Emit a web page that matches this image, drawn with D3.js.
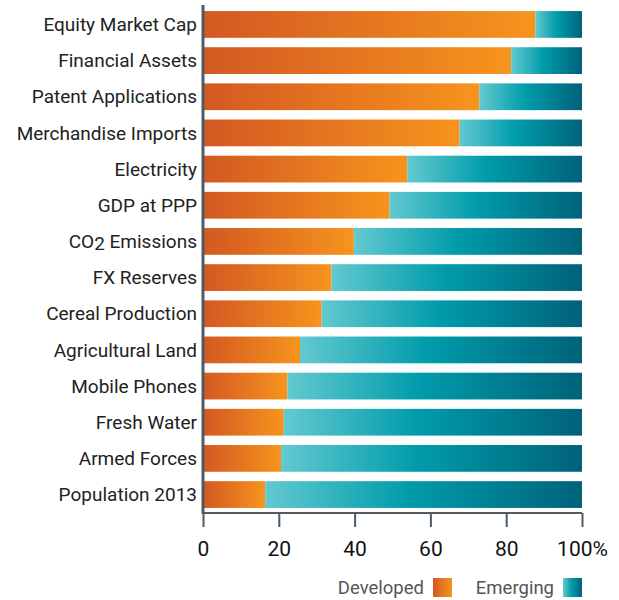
<!DOCTYPE html>
<html>
<head>
  <meta charset="utf-8" />
  <title>Developed vs Emerging</title>
  <script src="https://d3js.org/d3.v7.min.js"></script>
  <style>
    body { margin: 0; background: #fff; }
    text { font-family: 'Roboto', 'DejaVu Sans', sans-serif; }
  </style>
</head>
<body>
  <div id='graph'></div>
<script>
  // data (share of developed economies, %)
  var categories = ['Equity Market Cap', 'Financial Assets', 'Patent Applications', 'Merchandise Imports',
    'Electricity', 'GDP at PPP', 'CO2 Emissions', 'FX Reserves', 'Cereal Production', 'Agricultural Land',
    'Mobile Phones', 'Fresh Water', 'Armed Forces', 'Population 2013']
  var developed = [87.7, 81.3, 72.9, 67.7, 53.9, 49.2, 39.8, 33.9, 31.3, 25.6, 22.3, 21.3, 20.6, 16.4]
  var emerging = developed.map(function (d) { return 100 - d })
  var ticks = [0, 20, 40, 60, 80, 100]
  var legendLabels = ['Developed', 'Emerging']

  var width = 619, height = 600
  var margin = {top: 6, left: 203, right: 37, bottom: 87}

  const svg = d3.select('#graph').append('svg')
    .attr('width', width)
    .attr('height', height)

  // gradients for the two series
  const defs = svg.append('defs')
  const gOrange = defs.append('linearGradient').attr('id', 'gradDev')
  gOrange.append('stop').attr('offset', '0%').attr('stop-color', '#d35922')
  gOrange.append('stop').attr('offset', '100%').attr('stop-color', '#f7941d')
  const gTeal = defs.append('linearGradient').attr('id', 'gradEm')
  gTeal.append('stop').attr('offset', '0%').attr('stop-color', '#62c9d0')
  gTeal.append('stop').attr('offset', '45%').attr('stop-color', '#009cab')
  gTeal.append('stop').attr('offset', '100%').attr('stop-color', '#00627a')

  var xScale = d3.scaleLinear().domain([0, 100]).range([margin.left, width - margin.right])
  var yScale = d3.scaleBand().domain(categories)
    .range([margin.top, height - margin.bottom])
    .paddingInner(0.26).paddingOuter(0.14)

  const rows = svg.selectAll('.row')
    .data(categories)
    .enter()
    .append('g')
    .attr('class', 'row')

  rows.append('rect')
    .attr('x', xScale(0) + 1)
    .attr('y', function (d) { return yScale(d) })
    .attr('height', yScale.bandwidth())
    .attr('width', function (d, i) { return xScale(developed[i]) - xScale(0) - 1 })
    .attr('fill', 'url(#gradDev)')

  rows.append('rect')
    .attr('x', function (d, i) { return xScale(developed[i]) })
    .attr('y', function (d) { return yScale(d) })
    .attr('height', yScale.bandwidth())
    .attr('width', function (d, i) { return xScale(100) - xScale(developed[i]) })
    .attr('fill', 'url(#gradEm)')

  // category labels
  const labels = rows.append('text')
    .attr('x', margin.left - 6)
    .attr('y', function (d) { return yScale(d) + yScale.bandwidth() / 2 })
    .attr('dy', '0.35em')
    .attr('text-anchor', 'end')
    .attr('font-size', 19)
    .attr('fill', '#222')
  labels.each(function (d) {
    var t = d3.select(this)
    if (d.indexOf('CO2') === 0) {
      t.append('tspan').text('CO')
      t.append('tspan').text('2').attr('dy', '0.12em')
      t.append('tspan').text(' Emissions').attr('dy', '-0.12em')
    } else {
      t.text(d)
    }
  })

  // axes
  var axisY = height - margin.bottom
  const axis = svg.append('g')
    .attr('transform', 'translate(0,' + axisY + ')')
    .call(d3.axisBottom(xScale).tickValues(ticks).tickSize(14)
      .tickFormat(function (d) { return d === 100 ? '100%' : d }))
  axis.select('.domain').attr('stroke', '#4f5b63').attr('stroke-width', 2)
    .attr('d', 'M' + xScale(0) + ',0H' + xScale(100))
  axis.selectAll('.tick line').attr('stroke', '#4f5b63').attr('stroke-width', 2)
  axis.selectAll('.tick text')
    .attr('font-size', 21)
    .attr('fill', '#111')
    .attr('y', 28)
    .attr('font-family', "'Roboto', sans-serif")

  svg.append('line')
    .attr('x1', xScale(0)).attr('x2', xScale(0))
    .attr('y1', margin.top - 1).attr('y2', axisY + 1)
    .attr('stroke', '#4f5b63')
    .attr('stroke-width', 3)

  // legend
  var legendX = [433, 563]
  var fills = ['url(#gradDev)', 'url(#gradEm)']
  const legend = svg.selectAll('.legend')
    .data(legendLabels)
    .enter()
    .append('g')
    .attr('class', 'legend')
  legend.append('rect')
    .attr('x', function (d, i) { return legendX[i] })
    .attr('y', 578)
    .attr('width', 19)
    .attr('height', 19)
    .attr('fill', function (d, i) { return fills[i] })
  legend.append('text')
    .attr('x', function (d, i) { return legendX[i] - 9 })
    .attr('y', 588)
    .attr('dy', '0.35em')
    .attr('text-anchor', 'end')
    .attr('font-size', 18.5)
    .attr('fill', '#555')
    .text(function (d) { return d })
</script>
</body>
</html>
